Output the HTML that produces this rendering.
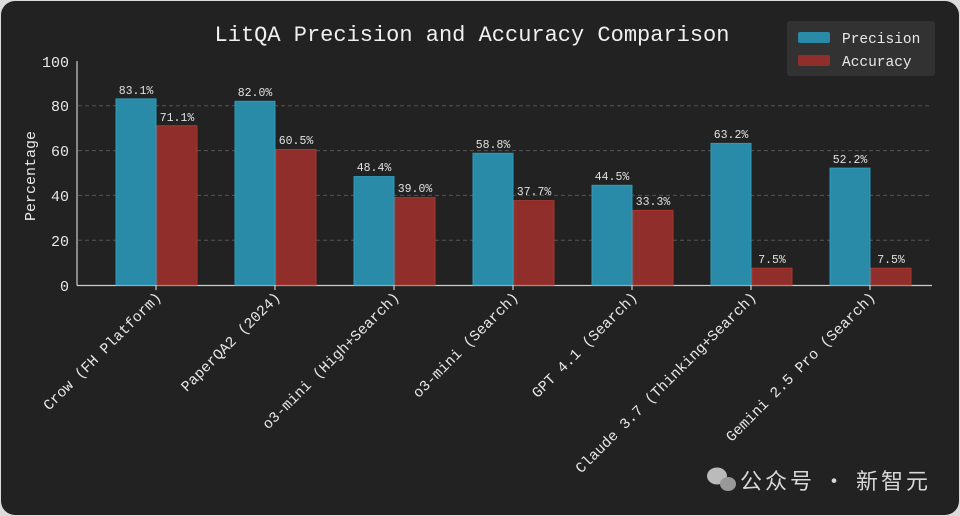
<!DOCTYPE html>
<html><head><meta charset="utf-8"><style>
body{margin:0;background:#e8e8e8;}
svg{display:block;font-family:"Liberation Mono",monospace;}
</style></head><body>
<svg width="960" height="516" viewBox="0 0 960 516">
<rect x="0" y="0" width="960" height="516" fill="#dcdcdc"/>
<rect x="1" y="1" width="958" height="514" rx="14" fill="#222222"/>
<text x="472" y="41" fill="#f0f0f0" font-size="22" text-anchor="middle">LitQA Precision and Accuracy Comparison</text>
<g stroke="#555" stroke-dasharray="4,3" stroke-width="1">
<line x1="78" x2="930" y1="240.2" y2="240.2"/><line x1="78" x2="930" y1="195.4" y2="195.4"/>
<line x1="78" x2="930" y1="150.6" y2="150.6"/><line x1="78" x2="930" y1="105.8" y2="105.8"/>
</g>
<g fill="#e8e8e8" font-size="15" text-anchor="end">
<text x="69" y="291">0</text><text x="69" y="246">20</text><text x="69" y="201">40</text>
<text x="69" y="156">60</text><text x="69" y="111">80</text><text x="69" y="67">100</text>
</g>
<text transform="translate(35,176) rotate(-90)" fill="#e8e8e8" font-size="15" text-anchor="middle">Percentage</text>
<line x1="77" y1="61" x2="77" y2="285.5" stroke="#ccc" stroke-width="1.2"/>
<line x1="77" y1="285.5" x2="932" y2="285.5" stroke="#ccc" stroke-width="1.2"/>
<g stroke-width="1">
<rect x="116" y="98.9" width="40" height="186.1" fill="#2a8ba8" stroke="#2f9cbc"/>
<rect x="157" y="125.7" width="40" height="159.3" fill="#8f2e2a" stroke="#a8372f"/>
<rect x="235" y="101.3" width="40" height="183.7" fill="#2a8ba8" stroke="#2f9cbc"/>
<rect x="276" y="149.5" width="40" height="135.5" fill="#8f2e2a" stroke="#a8372f"/>
<rect x="354" y="176.6" width="40" height="108.4" fill="#2a8ba8" stroke="#2f9cbc"/>
<rect x="395" y="197.6" width="40" height="87.4" fill="#8f2e2a" stroke="#a8372f"/>
<rect x="473" y="153.3" width="40" height="131.7" fill="#2a8ba8" stroke="#2f9cbc"/>
<rect x="514" y="200.6" width="40" height="84.4" fill="#8f2e2a" stroke="#a8372f"/>
<rect x="592" y="185.3" width="40" height="99.7" fill="#2a8ba8" stroke="#2f9cbc"/>
<rect x="633" y="210.4" width="40" height="74.6" fill="#8f2e2a" stroke="#a8372f"/>
<rect x="711" y="143.4" width="40" height="141.6" fill="#2a8ba8" stroke="#2f9cbc"/>
<rect x="752" y="268.2" width="40" height="16.8" fill="#8f2e2a" stroke="#a8372f"/>
<rect x="830" y="168.1" width="40" height="116.9" fill="#2a8ba8" stroke="#2f9cbc"/>
<rect x="871" y="268.2" width="40" height="16.8" fill="#8f2e2a" stroke="#a8372f"/>
</g>
<g fill="#e0e0e0" font-size="11.5" text-anchor="middle">
<text x="136" y="94">83.1%</text><text x="177" y="121">71.1%</text>
<text x="255" y="96">82.0%</text><text x="296" y="144">60.5%</text>
<text x="374" y="171">48.4%</text><text x="415" y="192">39.0%</text>
<text x="493" y="148">58.8%</text><text x="534" y="195">37.7%</text>
<text x="612" y="180">44.5%</text><text x="653" y="205">33.3%</text>
<text x="731" y="138">63.2%</text><text x="772" y="263">7.5%</text>
<text x="850" y="163">52.2%</text><text x="891" y="263">7.5%</text>
</g>
<g stroke="#ccc" stroke-width="1.2">
<line x1="156" x2="156" y1="285" y2="290"/><line x1="275" x2="275" y1="285" y2="290"/>
<line x1="394" x2="394" y1="285" y2="290"/><line x1="513" x2="513" y1="285" y2="290"/>
<line x1="632" x2="632" y1="285" y2="290"/><line x1="751" x2="751" y1="285" y2="290"/>
<line x1="870" x2="870" y1="285" y2="290"/>
</g>
<g fill="#e8e8e8" font-size="14.8" text-anchor="end">
<text transform="translate(162,298) rotate(-45)">Crow (FH Platform)</text>
<text transform="translate(281,298) rotate(-45)">PaperQA2 (2024)</text>
<text transform="translate(400,298) rotate(-45)">o3-mini (High+Search)</text>
<text transform="translate(519,298) rotate(-45)">o3-mini (Search)</text>
<text transform="translate(638,298) rotate(-45)">GPT 4.1 (Search)</text>
<text transform="translate(757,298) rotate(-45)">Claude 3.7 (Thinking+Search)</text>
<text transform="translate(876,298) rotate(-45)">Gemini 2.5 Pro (Search)</text>
</g>
<rect x="787" y="21" width="148" height="55" rx="3" fill="#323232"/>
<rect x="798" y="32" width="32" height="11" rx="2" fill="#2a8ba8"/>
<rect x="798" y="55" width="32" height="11" rx="2" fill="#8f2e2a"/>
<g fill="#e8e8e8" font-size="14.5">
<text x="842" y="43">Precision</text><text x="842" y="66">Accuracy</text>
</g>
<g fill="#bbbbbb">
<ellipse cx="717" cy="476" rx="10" ry="8.5"/>
<ellipse cx="728" cy="484" rx="8" ry="7" fill="#999"/>
</g>
<text x="740" y="489" fill="#d8d8d8" font-size="22" font-family="'Noto Sans CJK SC',sans-serif" textLength="188">公众号 · 新智元</text>
</svg>
</body></html>
